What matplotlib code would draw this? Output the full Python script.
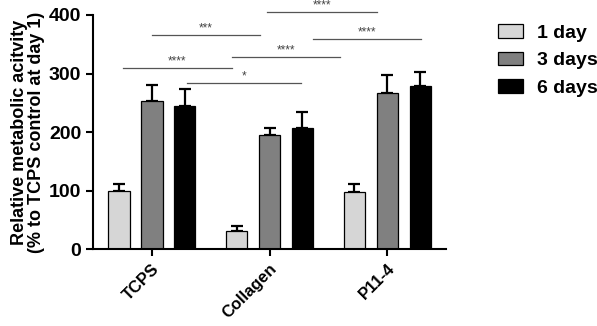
import matplotlib
matplotlib.use('Agg')
import matplotlib.pyplot as plt
import numpy as np

plt.rcParams['font.family'] = ['Liberation Sans', 'DejaVu Sans']
plt.rcParams['font.weight'] = 'bold'

groups = ['TCPS', 'Collagen', 'P11-4']
series = ['1 day', '3 days', '6 days']
means = {
    '1 day': [99, 31, 98],
    '3 days': [253, 195, 267],
    '6 days': [245, 207, 279],
}
errs = {
    '1 day': [12, 8, 13],
    '3 days': [27, 12, 30],
    '6 days': [28, 28, 24],
}
colors = ['#d6d6d6', '#808080', '#000000']

# significance brackets: (x start, x end, height, label)
sig_x0 = [0.98, 0.00, 1.37, 0.68, -0.25, 0.30]
sig_x1 = [1.91, 0.92, 2.29, 1.60, 0.68, 1.27]
sig_y = [405, 366, 359, 329, 310, 284]
sig_lab = ['****', '***', '****', '****', '****', '*']

fig = plt.figure(figsize=(5.97, 3.26), dpi=100)
ax = fig.add_axes([0.156, 0.236, 0.591, 0.718])

x = np.arange(len(groups))
w = 0.18
offs = [-0.28, 0.0, 0.28]
for s, c, o in zip(series, colors, offs):
    ax.bar(x + o, means[s], w, color=c, edgecolor='black', linewidth=0.9,
           label=s, zorder=2)
    ax.errorbar(x + o, means[s], yerr=[np.zeros(3), errs[s]], fmt='none',
                ecolor='black', elinewidth=1.6, capsize=4, capthick=1.6, zorder=1)

for x0, x1, y, lab in zip(sig_x0, sig_x1, sig_y, sig_lab):
    ax.plot([x0, x1], [y, y], color='#555555', lw=0.9, clip_on=False)
    ax.text((x0 + x1) / 2, y + 1, lab, ha='center', va='bottom', fontsize=8.5,
            color='#444444', fontweight='normal', clip_on=False)

ax.set_xlim(-0.5, 2.5)
ax.set_ylim(0, 400)
ax.set_yticks([0, 100, 200, 300, 400])
ax.set_xticks(x)
ax.set_xticklabels(groups, rotation=45, ha='right', rotation_mode='anchor',
                   fontsize=12, fontweight='bold')
ax.tick_params(axis='y', labelsize=14, width=1.5, length=5)
ax.tick_params(axis='x', width=1.5, length=5)
for lab in ax.get_yticklabels():
    lab.set_fontweight('bold')
for sp in ['top', 'right']:
    ax.spines[sp].set_visible(False)
for sp in ['left', 'bottom']:
    ax.spines[sp].set_linewidth(1.5)

ax.set_ylabel('Relative metabolic acitvity\n(% to TCPS control at day 1)',
              fontsize=13, fontweight='bold', labelpad=3, linespacing=1.0)

fig.legend(*ax.get_legend_handles_labels(), loc='upper left',
           bbox_to_anchor=(0.834, 0.925), bbox_transform=fig.transFigure,
           frameon=False, borderpad=0, borderaxespad=0,
           prop={'size': 14, 'weight': 'bold'}, handlelength=1.3,
           handleheight=0.7, labelspacing=0.5, handletextpad=0.7)

fig.savefig('out.png', dpi=100)
